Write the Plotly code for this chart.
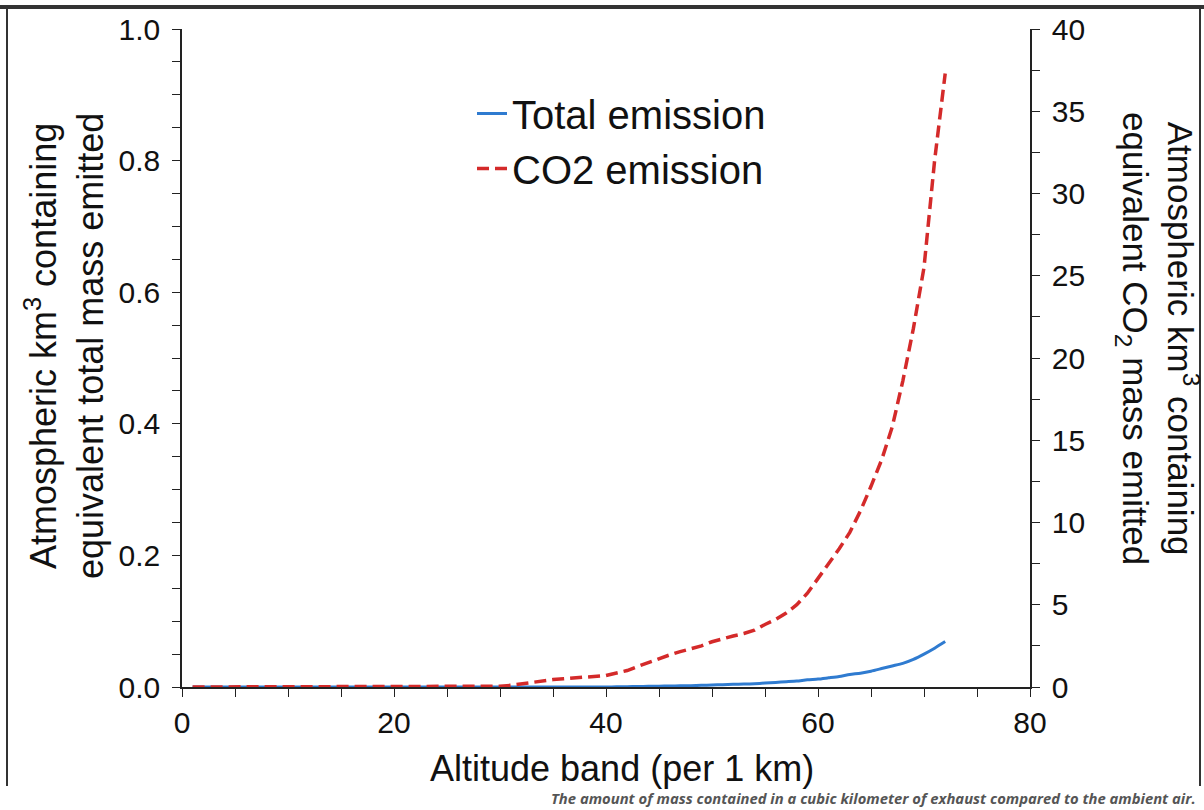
import plotly.graph_objects as go

# ---- data ----
altitude = list(range(1, 73))
total_emission = [0.0] * 40 + [
    0.0003, 0.0005, 0.0007, 0.001, 0.0012, 0.0015, 0.0018, 0.002, 0.0025, 0.003,   # 41-50
    0.0035, 0.004, 0.0045, 0.005, 0.006, 0.007, 0.008, 0.009, 0.011, 0.012,        # 51-60
    0.014, 0.016, 0.019, 0.021, 0.024, 0.028, 0.032, 0.036, 0.042, 0.050,          # 61-70
    0.059, 0.069,                                                                   # 71-72
]
co2_emission = [0.0] * 29 + [
    0.05, 0.1, 0.2, 0.3, 0.4, 0.45, 0.5, 0.55, 0.6, 0.63,      # 30-39
    0.7, 0.85, 1.0, 1.25, 1.5, 1.75, 1.95, 2.15, 2.3, 2.5,     # 40-49
    2.75, 2.95, 3.1, 3.25, 3.45, 3.8, 4.1, 4.5, 5.0, 5.7,      # 50-59
    6.6, 7.5, 8.4, 9.4, 10.7, 12.2, 13.8, 15.8, 18.6, 21.8,    # 60-69
    25.5, 32.0, 37.3,                                          # 70-72
]
series_names = ["Total emission", "CO2 emission"]
x_title = "Altitude band (per 1 km)"
left_title = "Atmospheric km<sup>3</sup> containing<br>equivalent total mass emitted"
right_title = "Atmospheric km<sup>3</sup> containing<br>equivalent CO<sub>2</sub> mass emitted"
caption = "The amount of mass contained in a cubic kilometer of exhaust compared to the ambient air."

# ---- layout constants ----
W, H = 1204, 810
L, R, T, B = 182, 174, 29, 123
PW, PH = W - L - R, H - T - B


def px(xp):
    return (xp - L) / PW


def py(yp):
    return (H - B - yp) / PH


FONT = "Liberation Sans, Arial, sans-serif"

fig = go.Figure()
fig.add_trace(go.Scatter(
    x=altitude, y=total_emission, name=series_names[0], mode="lines",
    line=dict(color="#2F7BD0", width=3, shape="spline", smoothing=0.6), yaxis="y",
))
fig.add_trace(go.Scatter(
    x=altitude, y=co2_emission, name=series_names[1], mode="lines",
    line=dict(color="#D42A2A", width=3.5, dash="12px,6px"), yaxis="y2",
))

axis_common = dict(
    showgrid=False, zeroline=False, showline=True, linecolor="#222",
    linewidth=1.5, ticks="outside", ticklen=8, tickwidth=1.3, tickcolor="#222",
    tickfont=dict(family=FONT, size=30, color="#111"),
)

fig.update_layout(
    width=W, height=H,
    margin=dict(l=L, r=R, t=T, b=B, autoexpand=False),
    paper_bgcolor="white", plot_bgcolor="white",
    font=dict(family=FONT, color="#111"),
    showlegend=True,
    legend=dict(
        x=px(472), y=py(81), xanchor="left", yanchor="top",
        bgcolor="rgba(0,0,0,0)", font=dict(family=FONT, size=40, color="#111"),
        itemwidth=30, tracegroupgap=0,
    ),
    xaxis=dict(
        range=[0, 80], tickmode="linear", tick0=0, dtick=20,
        minor=dict(dtick=5, ticks="outside", ticklen=8, tickcolor="#222", tickwidth=1.3),
        **axis_common,
    ),
    yaxis=dict(
        range=[0, 1.0], tickmode="linear", tick0=0, dtick=0.2, tickformat=".1f",
        ticklabelstandoff=6,
        minor=dict(dtick=0.05, ticks="outside", ticklen=8, tickcolor="#222", tickwidth=1.3),
        **axis_common,
    ),
    yaxis2=dict(
        range=[0, 40], tickmode="linear", tick0=0, dtick=5, overlaying="y", side="right",
        ticklabelstandoff=6,
        minor=dict(dtick=2.5, ticks="outside", ticklen=8, tickcolor="#222", tickwidth=1.3),
        **axis_common,
    ),
)

# axis titles
fig.add_annotation(
    text=x_title, xref="paper", yref="paper", x=px(622), y=py(768),
    xanchor="center", yanchor="middle", showarrow=False,
    font=dict(family=FONT, size=36, color="#111"),
)
fig.add_annotation(
    text=left_title, xref="paper", yref="paper", x=px(64), y=py(346),
    xanchor="center", yanchor="middle", textangle=-90, showarrow=False,
    font=dict(family=FONT, size=36, color="#111"), align="center",
)
fig.add_annotation(
    text=right_title, xref="paper", yref="paper", x=px(1158), y=py(338),
    xanchor="center", yanchor="middle", textangle=90, showarrow=False,
    font=dict(family=FONT, size=35, color="#111"), align="center",
)
# caption
fig.add_annotation(
    text="<b><i>" + caption + "</i></b>", xref="paper", yref="paper",
    x=px(1198), y=py(798), xanchor="right", yanchor="middle", showarrow=False,
    font=dict(family="Open Sans, sans-serif", size=14.8, color="#555"),
)

# page frame lines
fig.add_shape(type="line", xref="paper", yref="paper", x0=px(0), x1=px(1204),
              y0=py(7), y1=py(7), line=dict(color="#333", width=4))
fig.add_shape(type="line", xref="paper", yref="paper", x0=px(7), x1=px(7),
              y0=py(7), y1=py(786), line=dict(color="#333", width=2))
fig.add_shape(type="line", xref="paper", yref="paper", x0=px(1200), x1=px(1200),
              y0=py(7), y1=py(786), line=dict(color="#333", width=2))

fig.write_html(
    "out.html",
    config={"displayModeBar": False},
    post_script="document.body.style.margin='0';document.body.style.overflow='hidden';",
)
